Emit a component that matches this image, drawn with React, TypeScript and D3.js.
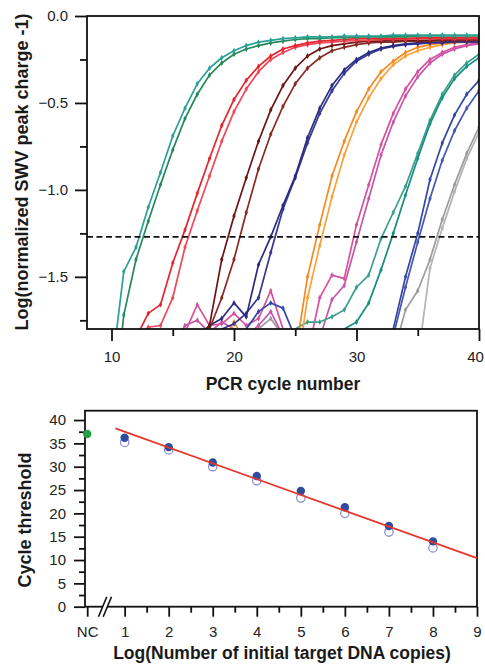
import React, { useRef, useEffect } from 'react';
import * as d3 from 'd3';

const W = 485;
const H = 664;

// ---- top panel: log(normalized SWV peak charge - 1) per PCR cycle ----
// each array starts at the cycle given in the series table below
const tealA = [-2.05, -1.47, -1.33, -1.10, -0.90, -0.69, -0.53, -0.39, -0.30, -0.24, -0.20, -0.17, -0.15, -0.14, -0.13, -0.125, -0.12, -0.12, -0.12, -0.115, -0.115, -0.115, -0.115, -0.11, -0.11, -0.11, -0.11, -0.11, -0.11, -0.11, -0.11];
const greenB = [-2.40, -1.72, -1.40, -1.18, -0.97, -0.77, -0.59, -0.45, -0.34, -0.27, -0.22, -0.19, -0.17, -0.155, -0.145, -0.135, -0.13, -0.13, -0.125, -0.125, -0.12, -0.12, -0.12, -0.12, -0.12, -0.115, -0.115, -0.115, -0.115, -0.115, -0.115];
const redA = [-1.85, -1.71, -1.66, -1.42, -1.23, -1.02, -0.82, -0.63, -0.48, -0.37, -0.29, -0.23, -0.19, -0.17, -0.155, -0.145, -0.14, -0.135, -0.13, -0.13, -0.13, -0.13, -0.13, -0.125, -0.125, -0.125, -0.125, -0.125, -0.125];
const redB = [-1.85, -1.79, -1.78, -1.62, -1.33, -1.12, -0.92, -0.72, -0.55, -0.42, -0.32, -0.25, -0.21, -0.18, -0.165, -0.155, -0.15, -0.145, -0.14, -0.14, -0.135, -0.135, -0.135, -0.13, -0.13, -0.13, -0.13, -0.13, -0.13];
const brownA = [-1.85, -1.78, -1.40, -1.15, -0.93, -0.72, -0.54, -0.40, -0.30, -0.23, -0.19, -0.17, -0.16, -0.15, -0.145, -0.145, -0.14, -0.14, -0.14, -0.14, -0.135, -0.135, -0.135, -0.135];
const brownB = [-1.90, -1.80, -1.62, -1.40, -1.13, -0.88, -0.68, -0.52, -0.39, -0.30, -0.24, -0.20, -0.18, -0.165, -0.155, -0.15, -0.15, -0.145, -0.145, -0.145, -0.14, -0.14, -0.14, -0.14];
const navyA = [-1.85, -1.78, -1.74, -1.65, -1.73, -1.43, -1.27, -1.09, -0.92, -0.70, -0.53, -0.40, -0.31, -0.25, -0.21, -0.185, -0.17, -0.16, -0.155, -0.15, -0.15, -0.145, -0.145, -0.145];
const navyB = [-1.88, -1.80, -1.77, -1.71, -1.62, -1.36, -1.11, -0.93, -0.73, -0.56, -0.43, -0.33, -0.26, -0.22, -0.19, -0.175, -0.165, -0.16, -0.155, -0.155, -0.15, -0.15, -0.15];
const orangeA = [-1.88, -1.76, -1.88, -1.95, -1.95, -1.95, -1.95, -1.50, -1.20, -0.92, -0.72, -0.55, -0.42, -0.32, -0.26, -0.21, -0.18, -0.165, -0.155, -0.15, -0.145, -0.14];
const orangeB = [-2.10, -1.62, -1.32, -1.04, -0.80, -0.61, -0.47, -0.36, -0.28, -0.23, -0.20, -0.18, -0.165, -0.155, -0.15, -0.145];
const magentaA = [-1.85, -1.82, -1.66, -1.78, -1.77, -1.71, -1.78, -1.74, -1.58, -1.80, -1.92, -1.95, -1.62, -1.49, -1.51, -1.20, -0.97, -0.74, -0.56, -0.42, -0.32, -0.25, -0.21, -0.18, -0.165, -0.155];
const magentaB = [-1.90, -1.78, -1.75, -1.82, -1.76, -1.80, -1.84, -1.78, -1.70, -1.84, -1.95, -1.92, -1.85, -1.63, -1.55, -1.30, -1.05, -0.80, -0.61, -0.46, -0.35, -0.27, -0.22, -0.19, -0.17, -0.16];
const tealC = [-1.85, -1.80, -1.76, -1.76, -1.73, -1.69, -1.56, -1.49, -1.28, -1.13, -0.98, -0.79, -0.60, -0.45, -0.34, -0.27, -0.22];
const tealD = [-1.90, -1.84, -1.80, -1.76, -1.65, -1.46, -1.25, -1.03, -0.82, -0.62, -0.47, -0.36, -0.29, -0.24];
const blueA = [-1.88, -1.80, -1.70, -1.65, -1.68, -1.85, -1.95, -1.95, -1.95, -1.95, -1.95, -1.95, -1.95, -1.80, -1.50, -1.25, -0.94, -0.73, -0.57, -0.45, -0.37];
const blueB = [-1.84, -1.56, -1.30, -1.05, -0.83, -0.66, -0.53, -0.43];
const grayA = [-1.88, -1.80, -1.74, -1.84, -1.95, -1.95, -1.95, -1.95, -1.95, -1.95, -1.95, -1.95, -1.95, -1.69, -1.58, -1.40, -1.17, -0.97, -0.79, -0.64];
const grayB = [-1.98, -1.45, -1.22, -1.01, -0.82, -0.67];

const threshold = -1.27;

const curves = [
  { start: 21, values: grayA, color: '#9c9c9c' },
  { start: 35, values: grayB, color: '#b3b3b3' },
  { start: 15, values: magentaB, color: '#c657a8' },
  { start: 15, values: magentaA, color: '#d8509e' },
  { start: 24, values: tealC, color: '#3c9f8c' },
  { start: 27, values: tealD, color: '#178f80' },
  { start: 20, values: blueA, color: '#3447a6' },
  { start: 33, values: blueB, color: '#4656b2' },
  { start: 25, values: orangeB, color: '#f9a23c' },
  { start: 19, values: orangeA, color: '#f6891f' },
  { start: 18, values: navyB, color: '#363893' },
  { start: 17, values: navyA, color: '#2b2c80' },
  { start: 17, values: brownB, color: '#872b24' },
  { start: 17, values: brownA, color: '#6b1515' },
  { start: 12, values: redB, color: '#f04858' },
  { start: 12, values: redA, color: '#e4262e' },
  { start: 10, values: greenB, color: '#26895a' },
  { start: 10, values: tealA, color: '#2aa096' },
];

// ---- bottom panel: cycle threshold vs log(initial copies) ----
const logCopies = [1, 2, 3, 4, 5, 6, 7, 8];
const ctRun1 = [36.2, 34.2, 30.9, 28.0, 24.8, 21.3, 17.3, 14.0];
const ctRun2 = [35.2, 33.6, 30.0, 27.0, 23.3, 20.0, 16.0, 12.6];
const ctNC = 37.0;
const fitIntercept = 40.9;
const fitSlope = -3.39;
const fitRange = [0.79, 9];

const topXTicks = [10, 20, 30, 40];
const topXMinor = [15, 25, 35];
const topYTicks = [0, -0.5, -1.0, -1.5];
const topYMinor = [-0.25, -0.75, -1.25, -1.75];
const botXTicks = [1, 2, 3, 4, 5, 6, 7, 8, 9];
const botXMinor = [1.5, 2.5, 3.5, 4.5, 5.5, 6.5, 7.5, 8.5];
const botYTicks = [0, 5, 10, 15, 20, 25, 30, 35, 40];
const botYMinor = [2.5, 7.5, 12.5, 17.5, 22.5, 27.5, 32.5, 37.5];
const ncPos = 0.15;

const FONT = "'Liberation Sans', Arial, Helvetica, sans-serif";

const App: React.FC = () => {
  const svgRef = useRef<SVGSVGElement | null>(null);

  useEffect(() => {
    if (!svgRef.current) return;
    const svg = d3.select(svgRef.current);
    svg.selectAll('*').remove();

    // ================= top panel =================
    const t = { left: 87, right: 479, top: 16, bottom: 329 };
    const x = d3.scaleLinear().domain([8, 40]).range([t.left, t.right]);
    const y = d3.scaleLinear().domain([0, -1.8]).range([t.top, t.bottom]);

    svg.append('defs').append('clipPath').attr('id', 'topClip')
      .append('rect')
      .attr('x', t.left).attr('y', t.top)
      .attr('width', t.right - t.left).attr('height', t.bottom - t.top);

    const plot = svg.append('g').attr('clip-path', 'url(#topClip)');

    const line = d3.line<[number, number]>()
      .x(d => x(d[0]))
      .y(d => y(d[1]));

    const marker = d3.symbol().type(d3.symbolDiamond).size(10);

    curves.forEach(c => {
      const pts: [number, number][] = c.values.map((v, i) => [c.start + i, v]);
      plot.append('path')
        .datum(pts)
        .attr('d', line)
        .attr('fill', 'none')
        .attr('stroke', c.color)
        .attr('stroke-width', 1.7)
        .attr('stroke-linejoin', 'round');
      plot.selectAll(null)
        .data(pts.filter(p => p[1] > -1.8))
        .join('path')
        .attr('d', marker)
        .attr('transform', d => `translate(${x(d[0])},${y(d[1])})`)
        .attr('fill', c.color);
    });

    plot.append('line')
      .attr('x1', t.left).attr('x2', t.right)
      .attr('y1', y(threshold)).attr('y2', y(threshold))
      .attr('stroke', '#111')
      .attr('stroke-width', 1.8)
      .attr('stroke-dasharray', '6,3.5');

    const styleAxis = (g: d3.Selection<SVGGElement, unknown, null, undefined>) => {
      g.selectAll('line').attr('stroke', '#111').attr('stroke-width', 1.8);
      g.selectAll('text').attr('font-family', FONT).attr('font-size', 15).attr('fill', '#222');
      g.select('.domain').remove();
    };

    svg.append('g')
      .attr('transform', `translate(0,${t.bottom})`)
      .call(d3.axisBottom(x).tickValues(topXTicks).tickSize(12).tickPadding(10).tickFormat(d3.format('d')))
      .call(styleAxis)
      .selectAll<SVGTextElement, number>('text')
      .attr('dx', d => (d === 40 ? -4 : 0));
    svg.append('g')
      .attr('transform', `translate(0,${t.bottom})`)
      .call(d3.axisBottom(x).tickValues(topXMinor).tickSize(7).tickFormat(() => ''))
      .call(styleAxis);
    svg.append('g')
      .attr('transform', `translate(${t.left},0)`)
      .call(d3.axisLeft(y).tickValues(topYTicks).tickSize(12).tickPadding(7).tickFormat(d3.format('.1f')))
      .call(styleAxis);
    svg.append('g')
      .attr('transform', `translate(${t.left},0)`)
      .call(d3.axisLeft(y).tickValues(topYMinor).tickSize(7).tickFormat(() => ''))
      .call(styleAxis);

    svg.append('rect')
      .attr('x', t.left).attr('y', t.top)
      .attr('width', t.right - t.left).attr('height', t.bottom - t.top)
      .attr('fill', 'none').attr('stroke', '#111').attr('stroke-width', 1.8);

    svg.append('text')
      .attr('x', 283).attr('y', 390)
      .attr('text-anchor', 'middle')
      .attr('font-family', FONT).attr('font-weight', 'bold').attr('font-size', 17.5)
      .attr('fill', '#1a1a1a')
      .text('PCR cycle number');

    svg.append('text')
      .attr('transform', 'translate(28,172) rotate(-90)')
      .attr('text-anchor', 'middle')
      .attr('font-family', FONT).attr('font-weight', 'bold').attr('font-size', 18)
      .attr('fill', '#1a1a1a')
      .text('Log(normalized SWV peak charge -1)');

    // ================= bottom panel =================
    const b = { left: 85, right: 477, top: 410.7, bottom: 606.7 };
    const bx = d3.scaleLinear().domain([0.1, 9]).range([b.left, b.right]);
    const by = d3.scaleLinear().domain([0, 42]).range([b.bottom, b.top]);

    svg.append('g')
      .attr('transform', `translate(0,${b.bottom})`)
      .call(d3.axisBottom(bx).tickValues([ncPos, ...botXTicks]).tickSize(10).tickPadding(10)
        .tickFormat(d => (d === ncPos ? 'NC' : d3.format('d')(d as number))))
      .call(styleAxis);
    svg.append('g')
      .attr('transform', `translate(0,${b.bottom})`)
      .call(d3.axisBottom(bx).tickValues(botXMinor).tickSize(6).tickFormat(() => ''))
      .call(styleAxis);
    svg.append('g')
      .attr('transform', `translate(${b.left},0)`)
      .call(d3.axisLeft(by).tickValues(botYTicks).tickSize(11).tickPadding(8).tickFormat(d3.format('d')))
      .call(styleAxis);
    svg.append('g')
      .attr('transform', `translate(${b.left},0)`)
      .call(d3.axisLeft(by).tickValues(botYMinor).tickSize(6).tickFormat(() => ''))
      .call(styleAxis);

    svg.append('rect')
      .attr('x', b.left).attr('y', b.top)
      .attr('width', b.right - b.left).attr('height', b.bottom - b.top)
      .attr('fill', 'none').attr('stroke', '#111').attr('stroke-width', 1.8);

    // axis break mark
    const brk = svg.append('g');
    brk.append('polygon')
      .attr('points', '98.5,616.7 106.8,596.7 111.5,596.7 103.2,616.7')
      .attr('fill', '#fff');
    [[98.5, 616.7, 106.8, 596.7], [103.2, 616.7, 111.5, 596.7]].forEach(([x1, y1, x2, y2]) => {
      brk.append('line')
        .attr('x1', x1).attr('y1', y1).attr('x2', x2).attr('y2', y2)
        .attr('stroke', '#111').attr('stroke-width', 1.6);
    });

    // open circles (second run)
    svg.append('g')
      .selectAll('circle')
      .data(logCopies)
      .join('circle')
      .attr('cx', d => bx(d))
      .attr('cy', (_, i) => by(ctRun2[i]))
      .attr('r', 4.2)
      .attr('fill', 'none')
      .attr('stroke', '#8c8fd2')
      .attr('stroke-width', 1.3);

    // filled circles (first run)
    svg.append('g')
      .selectAll('circle')
      .data(logCopies)
      .join('circle')
      .attr('cx', d => bx(d))
      .attr('cy', (_, i) => by(ctRun1[i]))
      .attr('r', 4.2)
      .attr('fill', '#2e4d9f');

    svg.append('circle')
      .attr('cx', bx(ncPos)).attr('cy', by(ctNC))
      .attr('r', 4.2)
      .attr('fill', '#21a049');

    svg.append('line')
      .attr('x1', bx(fitRange[0])).attr('y1', by(fitIntercept + fitSlope * fitRange[0]))
      .attr('x2', bx(fitRange[1])).attr('y2', by(fitIntercept + fitSlope * fitRange[1]))
      .attr('stroke', '#e5372c')
      .attr('stroke-width', 1.8);

    svg.append('text')
      .attr('x', 282).attr('y', 659)
      .attr('text-anchor', 'middle')
      .attr('font-family', FONT).attr('font-weight', 'bold').attr('font-size', 17.5)
      .attr('fill', '#1a1a1a')
      .text('Log(Number of initial target DNA copies)');

    svg.append('text')
      .attr('transform', 'translate(31,520) rotate(-90)')
      .attr('text-anchor', 'middle')
      .attr('font-family', FONT).attr('font-weight', 'bold').attr('font-size', 18)
      .attr('fill', '#1a1a1a')
      .text('Cycle threshold');
  }, []);

  return (
    <svg
      ref={svgRef}
      width={W}
      height={H}
      style={{ position: 'absolute', left: 0, top: 0, background: '#fff' }}
    />
  );
};

export default App;
